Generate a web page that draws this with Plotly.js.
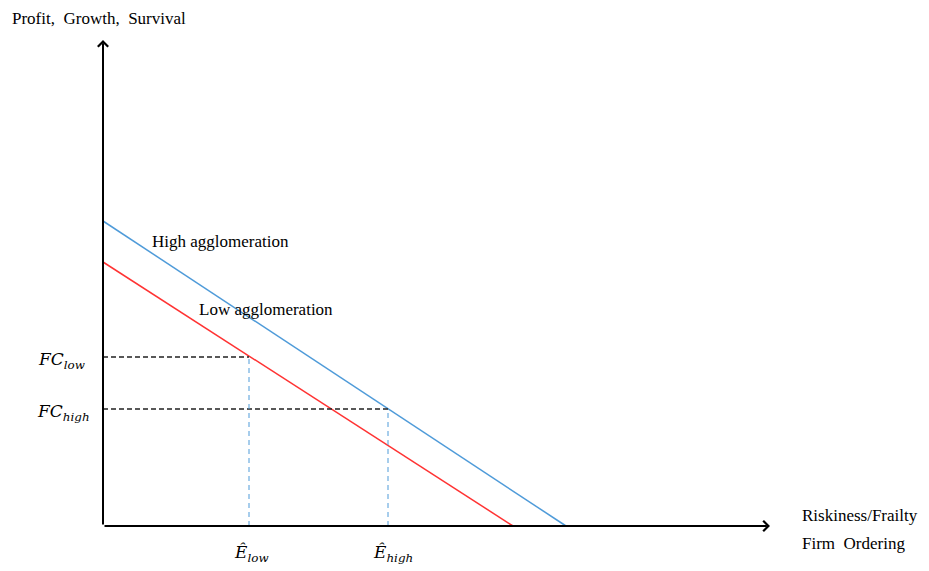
<!DOCTYPE html>
<html>
<head>
<meta charset="utf-8">
<script src="https://cdn.plot.ly/plotly-3.0.1.min.js"></script>
<style>html,body{margin:0;padding:0;background:#fff;}#chart{width:929px;height:571px;}</style>
</head>
<body>
<div id="chart"></div>
<script>
// Schematic values (arbitrary units, origin at the axes' corner)
const highX = [0, 463];
const highY = [305, 0];
const lowX = [0, 410];
const lowY = [264, 0];
const fcLevels = [169, 117];          // FC_low, FC_high
const eHatValues = [146, 285];        // Ê_low, Ê_high
const fcLabels = ['<i>FC</i><sub><i>low</i></sub>', '<i>FC</i><sub><i>high</i></sub>'];
const eLabels = ['<i>Ê</i><sub><i>low</i></sub>', '<i>Ê</i><sub><i>high</i></sub>'];
const seriesNames = ['High agglomeration', 'Low agglomeration'];
const axisEnds = {x: 667, y: 486};
const yAxisTitle = 'Profit,  Growth,  Survival';
const xAxisTitle = ['Riskiness/Frailty', 'Firm  Ordering'];

const blue = '#4F9BD9', red = '#FF3333';
const serif = 'Liberation Serif, Times New Roman, serif';
const mathFont = 'DejaVu Serif, serif';

const traces = [
  {x: highX, y: highY, mode: 'lines', line: {color: blue, width: 1.5}, name: seriesNames[0], hoverinfo: 'skip'},
  {x: lowX, y: lowY, mode: 'lines', line: {color: red, width: 1.5}, name: seriesNames[1], hoverinfo: 'skip'},
  // horizontal dashed FC lines
  {x: [0, eHatValues[0]], y: [fcLevels[0], fcLevels[0]], mode: 'lines', line: {color: '#222', width: 1.3, dash: '5px,3px'}, hoverinfo: 'skip'},
  {x: [0, eHatValues[1]], y: [fcLevels[1], fcLevels[1]], mode: 'lines', line: {color: '#222', width: 1.3, dash: '5px,3px'}, hoverinfo: 'skip'},
  // vertical dashed Ê lines
  {x: [eHatValues[0], eHatValues[0]], y: [0, fcLevels[0]], mode: 'lines', line: {color: blue, width: 1, dash: '5px,4px'}, hoverinfo: 'skip'},
  {x: [eHatValues[1], eHatValues[1]], y: [0, fcLevels[1]], mode: 'lines', line: {color: blue, width: 1, dash: '5px,4px'}, hoverinfo: 'skip'}
];

const annotations = [
  // axes with arrows
  {x: axisEnds.x, y: 0, ax: 0, ay: 0, axref: 'x', ayref: 'y', xref: 'x', yref: 'y', text: '', showarrow: true, arrowhead: 4, arrowsize: 1, arrowwidth: 2, arrowcolor: '#000', standoff: 0},
  {x: 0, y: axisEnds.y, ax: 0, ay: 0, axref: 'x', ayref: 'y', xref: 'x', yref: 'y', text: '', showarrow: true, arrowhead: 4, arrowsize: 1, arrowwidth: 2, arrowcolor: '#000', standoff: 0},
  // titles
  {x: -93, y: 508, xref: 'x', yref: 'y', text: yAxisTitle, showarrow: false, xanchor: 'left', yanchor: 'middle', font: {family: serif, size: 17, color: '#000'}},
  {x: 697, y: 11, xref: 'x', yref: 'y', text: xAxisTitle[0], showarrow: false, xanchor: 'left', yanchor: 'middle', font: {family: serif, size: 17, color: '#000'}},
  {x: 697, y: -17, xref: 'x', yref: 'y', text: xAxisTitle[1], showarrow: false, xanchor: 'left', yanchor: 'middle', font: {family: serif, size: 17, color: '#000'}},
  // series labels
  {x: 47, y: 285, xref: 'x', yref: 'y', text: seriesNames[0], showarrow: false, xanchor: 'left', yanchor: 'middle', font: {family: serif, size: 17, color: '#000'}},
  {x: 94, y: 217, xref: 'x', yref: 'y', text: seriesNames[1], showarrow: false, xanchor: 'left', yanchor: 'middle', font: {family: serif, size: 17, color: '#000'}},
  // FC labels
  {x: -16, y: fcLevels[0] - 3, xref: 'x', yref: 'y', text: fcLabels[0], showarrow: false, xanchor: 'right', yanchor: 'middle', font: {family: mathFont, size: 17, color: '#000'}},
  {x: -11, y: fcLevels[1] - 3, xref: 'x', yref: 'y', text: fcLabels[1], showarrow: false, xanchor: 'right', yanchor: 'middle', font: {family: mathFont, size: 17, color: '#000'}},
  // Ê labels
  {x: eHatValues[0] + 2, y: -27, xref: 'x', yref: 'y', text: eLabels[0], showarrow: false, xanchor: 'center', yanchor: 'middle', font: {family: mathFont, size: 17, color: '#000'}},
  {x: eHatValues[1] + 5, y: -27, xref: 'x', yref: 'y', text: eLabels[1], showarrow: false, xanchor: 'center', yanchor: 'middle', font: {family: mathFont, size: 17, color: '#000'}}
];

const layout = {
  width: 929, height: 571,
  margin: {l: 0, r: 0, t: 0, b: 0},
  paper_bgcolor: '#fff', plot_bgcolor: '#fff',
  showlegend: false,
  xaxis: {range: [-103, 826], visible: false, fixedrange: true},
  yaxis: {range: [-45, 526], visible: false, fixedrange: true},
  annotations: annotations
};

Plotly.newPlot('chart', traces, layout, {displayModeBar: false, staticPlot: true});
</script>
</body>
</html>
